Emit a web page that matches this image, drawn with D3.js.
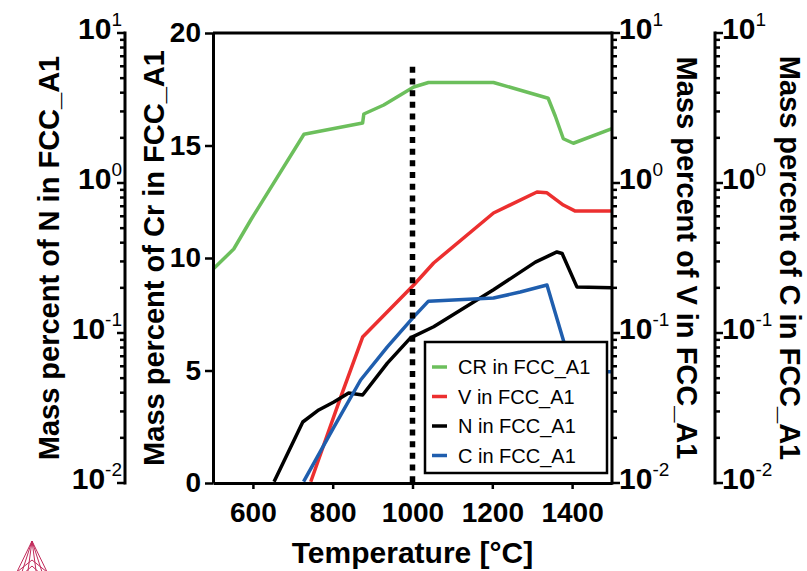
<!DOCTYPE html>
<html>
<head>
<meta charset="utf-8">
<script src="https://cdn.jsdelivr.net/npm/d3@7"></script>
<style>
  body { margin: 0; background: #fff; }
  svg { display: block; font-family: "Liberation Sans", Arial, sans-serif; }
</style>
</head>
<body>
<svg id="chart" width="807" height="571"></svg>
<script>
// temperature ticks
const tempTicks = [600, 800, 1000, 1200, 1400];
const crTicks = [0, 5, 10, 15, 20];
const logTicks = [0.01, 0.1, 1, 10];
const logTickSup = ["-2", "-1", "0", "1"];

// CR in FCC_A1 (linear axis, mass %)
const crTemp = [500, 552, 595, 728, 875, 878, 928, 1003, 1040, 1203, 1340, 1358, 1378, 1403, 1500];
const crValues = [9.5, 10.4, 11.7, 15.5, 16.0, 16.4, 16.8, 17.6, 17.8, 17.8, 17.1, 16.3, 15.3, 15.1, 15.75];

// V in FCC_A1 (log axis)
const vTemp = [745, 820, 875, 1003, 1053, 1203, 1312, 1337, 1378, 1408, 1500];
const vValues = [0.0102, 0.0374, 0.094, 0.209, 0.293, 0.631, 0.871, 0.86, 0.713, 0.65, 0.65];

// N in FCC_A1 (log axis)
const nTemp = [653, 725, 765, 803, 840, 875, 937, 995, 1053, 1203, 1308, 1362, 1375, 1412, 1500];
const nValues = [0.0102, 0.0255, 0.0307, 0.0347, 0.0398, 0.0386, 0.063, 0.0927, 0.11, 0.194, 0.297, 0.347, 0.339, 0.203, 0.2];

// C in FCC_A1 (log axis)
const cTemp = [727, 803, 870, 937, 1003, 1040, 1203, 1270, 1337, 1378, 1400, 1500];
const cValues = [0.0102, 0.0236, 0.0486, 0.0807, 0.128, 0.163, 0.171, 0.1875, 0.209, 0.0897, 0.0552, 0.0552];

const markerTemp = 1000;
const markerTop = 18.5;

const series = [
  {name: "CR in FCC_A1", temp: crTemp, values: crValues, axis: "lin", color: "#6cbf5c"},
  {name: "V in FCC_A1", temp: vTemp, values: vValues, axis: "log", color: "#ec2f2f"},
  {name: "N in FCC_A1", temp: nTemp, values: nValues, axis: "log", color: "#000000"},
  {name: "C in FCC_A1", temp: cTemp, values: cValues, axis: "log", color: "#1f5eae"}
];

const plot = {left: 213, right: 612, top: 33, bottom: 483};
const svg = d3.select("#chart");

const x = d3.scaleLinear([500, 1500], [plot.left, plot.right]);
const yLin = d3.scaleLinear([0, 20], [plot.bottom, plot.top]);
const yLog = d3.scaleLog([0.01, 10], [plot.bottom, plot.top]);

svg.append("defs").append("clipPath").attr("id", "clip")
  .append("rect")
  .attr("x", plot.left).attr("y", plot.top)
  .attr("width", plot.right - plot.left).attr("height", plot.bottom - plot.top);

// data lines
const lines = svg.append("g").attr("clip-path", "url(#clip)");
series.forEach(s => {
  const yScale = s.axis === "lin" ? yLin : yLog;
  const pts = s.temp.map((t, i) => [x(t), yScale(s.values[i])]);
  lines.append("path")
    .attr("d", d3.line()(pts))
    .attr("fill", "none")
    .attr("stroke", s.color)
    .attr("stroke-width", 3.5)
    .attr("stroke-linejoin", "round");
});

// dotted marker line
svg.append("line")
  .attr("x1", x(markerTemp)).attr("x2", x(markerTemp))
  .attr("y1", yLin(markerTop)).attr("y2", plot.bottom)
  .attr("stroke", "#000")
  .attr("stroke-width", 5.5)
  .attr("stroke-dasharray", "6,5.7");

// frame top
svg.append("line")
  .attr("x1", plot.left).attr("x2", plot.right)
  .attr("y1", plot.top).attr("y2", plot.top)
  .attr("stroke", "#000").attr("stroke-width", 3);

function styleAxis(g) {
  g.selectAll(".domain").attr("stroke", "#000").attr("stroke-width", 3);
  g.selectAll(".tick line").attr("stroke", "#000").attr("stroke-width", 2.5);
}

// x axis
const xAxis = svg.append("g")
  .attr("transform", `translate(0,${plot.bottom})`)
  .call(d3.axisBottom(x).tickValues(tempTicks).tickFormat(d3.format("d"))
    .tickSize(6).tickSizeOuter(0).tickPadding(13));
styleAxis(xAxis);
xAxis.selectAll("text")
  .attr("font-size", 28).attr("font-weight", "bold").attr("fill", "#000")
  .attr("font-family", "Liberation Sans, Arial, sans-serif");

// Cr axis (linear, left inner)
const crAxis = svg.append("g")
  .attr("transform", `translate(${plot.left},0)`)
  .call(d3.axisLeft(yLin).tickValues(crTicks).tickSize(8).tickSizeOuter(0).tickPadding(4));
styleAxis(crAxis);
crAxis.selectAll("text")
  .attr("font-size", 28).attr("font-weight", "bold").attr("fill", "#000")
  .attr("font-family", "Liberation Sans, Arial, sans-serif");

// log axes
function minorLogTicks() {
  const t = [];
  [0.01, 0.1, 1].forEach(d => { for (let k = 2; k <= 9; k++) t.push(d * k); });
  return t;
}

function logAxis(xPos, side) {
  const g = svg.append("g").attr("transform", `translate(${xPos},0)`);
  const dir = side === "left" ? -1 : 1;
  g.append("line")
    .attr("x1", 0).attr("x2", 0)
    .attr("y1", yLog(10) - 1.5).attr("y2", yLog(0.01) + 1.5)
    .attr("stroke", "#000").attr("stroke-width", 3);
  g.selectAll(".minor").data(minorLogTicks()).join("line")
    .attr("x1", 0).attr("x2", dir * 5)
    .attr("y1", d => yLog(d)).attr("y2", d => yLog(d))
    .attr("stroke", "#000").attr("stroke-width", 2.5);
  g.selectAll(".major").data(logTicks).join("line")
    .attr("x1", 0).attr("x2", dir * 8)
    .attr("y1", d => yLog(d)).attr("y2", d => yLog(d))
    .attr("stroke", "#000").attr("stroke-width", 2.5);
  const lab = g.selectAll(".lab").data(logTicks).join("text")
    .attr("x", side === "left" ? -3 : 7)
    .attr("y", d => yLog(d) + 6)
    .attr("text-anchor", side === "left" ? "end" : "start")
    .attr("fill", "#000");
  lab.append("tspan").attr("font-size", 30).attr("font-weight", "bold").text("10");
  lab.append("tspan").attr("font-size", 19).attr("dy", -13).text((d, i) => logTickSup[i]);
}
logAxis(125, "left");
logAxis(plot.right, "right");
logAxis(715, "right");

// axis titles
const midY = (plot.top + plot.bottom) / 2;
function axisTitle(xPos, angle, text) {
  svg.append("text")
    .attr("transform", `translate(${xPos},${midY}) rotate(${angle})`)
    .attr("text-anchor", "middle")
    .attr("font-size", 29).attr("font-weight", "bold").attr("fill", "#000")
    .text(text);
}
axisTitle(59, -90, "Mass percent of N in FCC_A1");
axisTitle(164, -90, "Mass percent of Cr in FCC_A1");
axisTitle(677, 90, "Mass percent of V in FCC_A1");
axisTitle(780, 90, "Mass percent of C in FCC_A1");

svg.append("text")
  .attr("x", (plot.left + plot.right) / 2).attr("y", 563)
  .attr("text-anchor", "middle")
  .attr("font-size", 30).attr("font-weight", "bold").attr("fill", "#000")
  .text("Temperature [°C]");

// legend
const legend = svg.append("g").attr("transform", "translate(425,342)");
legend.append("rect")
  .attr("width", 182).attr("height", 131)
  .attr("fill", "#fff").attr("stroke", "#000").attr("stroke-width", 2.5);
series.forEach((s, i) => {
  const ly = 25 + i * 29.5;
  legend.append("line")
    .attr("x1", 7).attr("x2", 22).attr("y1", ly).attr("y2", ly)
    .attr("stroke", s.color).attr("stroke-width", 3.5);
  legend.append("text")
    .attr("x", 33).attr("y", ly + 7)
    .attr("font-size", 20).attr("fill", "#000")
    .text(s.name);
});

// logo
const logo = svg.append("g")
  .attr("fill", "none").attr("stroke", "#c02a5a").attr("stroke-width", 1);
[[32, 541, 14, 578, 50, 578], [32, 541, 20, 578, 44, 578], [32, 541, 27, 578, 37, 578]]
  .forEach(p => logo.append("path").attr("d", `M${p[2]},${p[3]}L${p[0]},${p[1]}L${p[4]},${p[5]}`));
logo.append("path").attr("d", "M17,572L32,560L47,572");
logo.append("path").attr("d", "M22,575L32,566L42,575");
</script>
</body>
</html>
